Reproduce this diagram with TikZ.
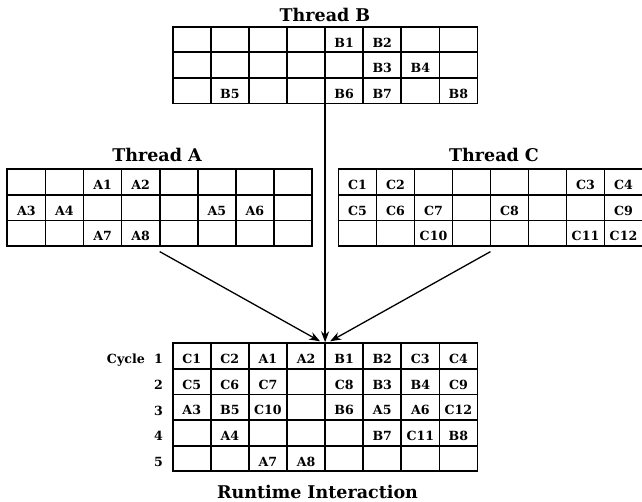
\documentclass[tikz,border=0pt]{standalone}
\usepackage{fontspec}
\setmainfont{DejaVu Serif}
\usetikzlibrary{arrows.meta}
\begin{document}
\begin{tikzpicture}[x=1pt,y={(0pt,-1pt)},
  gl/.style={line width=1.7pt},
  gridbox/.style={draw,line width=1.7pt,inner sep=0pt,outer sep=0pt,anchor=north west},
  cell/.style={anchor=base,inner sep=0pt,font=\fontsize{12.6}{15}\selectfont\bfseries},
  lbl/.style={anchor=base east,inner sep=0pt,font=\fontsize{12.6}{15}\selectfont\bfseries},
  ttl/.style={anchor=base,inner sep=0pt,font=\fontsize{17.5}{20}\selectfont\bfseries},
  arr/.style={line width=1.3pt,-{Stealth[length=11pt,width=8pt]}}]
\useasboundingbox (0,0) rectangle (642,501);

% ---------- Thread B ----------
\node[ttl] (tB) at (325,21.7) {Thread B};
\node[gridbox,minimum width=304.8pt,minimum height=76.8pt] (gB) at (172.7,26.7) {};
\begin{scope}[shift={(172.7,26.7)}]
  \foreach \i in {1,...,7} \draw[gl] (\i*38.1,0) -- (\i*38.1,76.8);
  \foreach \j in {1,2} \draw[gl] (0,\j*25.6) -- (304.8,\j*25.6);
  \foreach \r/\c/\t in {1/5/B1,1/6/B2,2/6/B3,2/7/B4,3/2/B5,3/5/B6,3/6/B7,3/8/B8}
    \node[cell] (b-\t) at ({(\c-0.5)*38.1},{(\r-1)*25.6+20.3}) {\t};
\end{scope}

% ---------- Thread A ----------
\node[ttl] (tA) at (157,161.7) {Thread A};
\node[gridbox,minimum width=304.8pt,minimum height=76.8pt] (gA) at (7.3,169.3) {};
\begin{scope}[shift={(7.3,169.3)}]
  \foreach \i in {1,...,7} \draw[gl] (\i*38.1,0) -- (\i*38.1,76.8);
  \foreach \j in {1,2} \draw[gl] (0,\j*25.6) -- (304.8,\j*25.6);
  \foreach \r/\c/\t in {1/3/A1,1/4/A2,2/1/A3,2/2/A4,2/6/A5,2/7/A6,3/3/A7,3/4/A8}
    \node[cell] (a-\t) at ({(\c-0.5)*38.1},{(\r-1)*25.6+20.3}) {\t};
\end{scope}

% ---------- Thread C ----------
\node[ttl] (tC) at (494,161.7) {Thread C};
\node[gridbox,minimum width=304pt,minimum height=76.8pt] (gC) at (338.5,169.3) {};
\begin{scope}[shift={(338.5,169.3)}]
  \foreach \i in {1,...,7} \draw[gl] (\i*38,0) -- (\i*38,76.8);
  \foreach \j in {1,2} \draw[gl] (0,\j*25.6) -- (304,\j*25.6);
  \foreach \r/\c/\t in {1/1/C1,1/2/C2,1/7/C3,1/8/C4,2/1/C5,2/2/C6,2/3/C7,2/5/C8,2/8/C9,3/3/C10,3/7/C11,3/8/C12}
    \node[cell] (c-\t) at ({(\c-0.5)*38},{(\r-1)*25.6+20.3}) {\t};
\end{scope}

% ---------- Runtime ----------
\node[gridbox,minimum width=304.8pt,minimum height=128pt] (gR) at (172.7,343.3) {};
\begin{scope}[shift={(172.7,343.3)}]
  \foreach \i in {1,...,7} \draw[gl] (\i*38.1,0) -- (\i*38.1,128);
  \foreach \j in {1,...,4} \draw[gl] (0,\j*25.6) -- (304.8,\j*25.6);
  \foreach \r/\c/\t in {1/1/C1,1/2/C2,1/3/A1,1/4/A2,1/5/B1,1/6/B2,1/7/C3,1/8/C4,
                        2/1/C5,2/2/C6,2/3/C7,2/5/C8,2/6/B3,2/7/B4,2/8/C9,
                        3/1/A3,3/2/B5,3/3/C10,3/5/B6,3/6/A5,3/7/A6,3/8/C12,
                        4/2/A4,4/6/B7,4/7/C11,4/8/B8,
                        5/3/A7,5/4/A8}
    \node[cell] (r-\t) at ({(\c-0.5)*38.1},{(\r-1)*25.6+20.3}) {\t};
  \foreach \r in {1,...,5}
    \node[lbl] (n\r) at (-9.5,{(\r-1)*25.6+20.5}) {\r};
  \node[lbl] (cyc) at (-27.7,20.5) {Cycle};
\end{scope}
\node[ttl] (tR) at (317.5,498) {Runtime Interaction};

% ---------- Arrows ----------
\draw[arr] (gB.south) -- ([yshift=1pt]gR.north);
\draw[arr] ([yshift=-5.5pt]gA.south) -- ([xshift=-5pt,yshift=2pt]gR.north);
\draw[arr] ([yshift=-5.5pt]gC.south) -- ([xshift=5pt,yshift=2pt]gR.north);
\end{tikzpicture}
\end{document}
